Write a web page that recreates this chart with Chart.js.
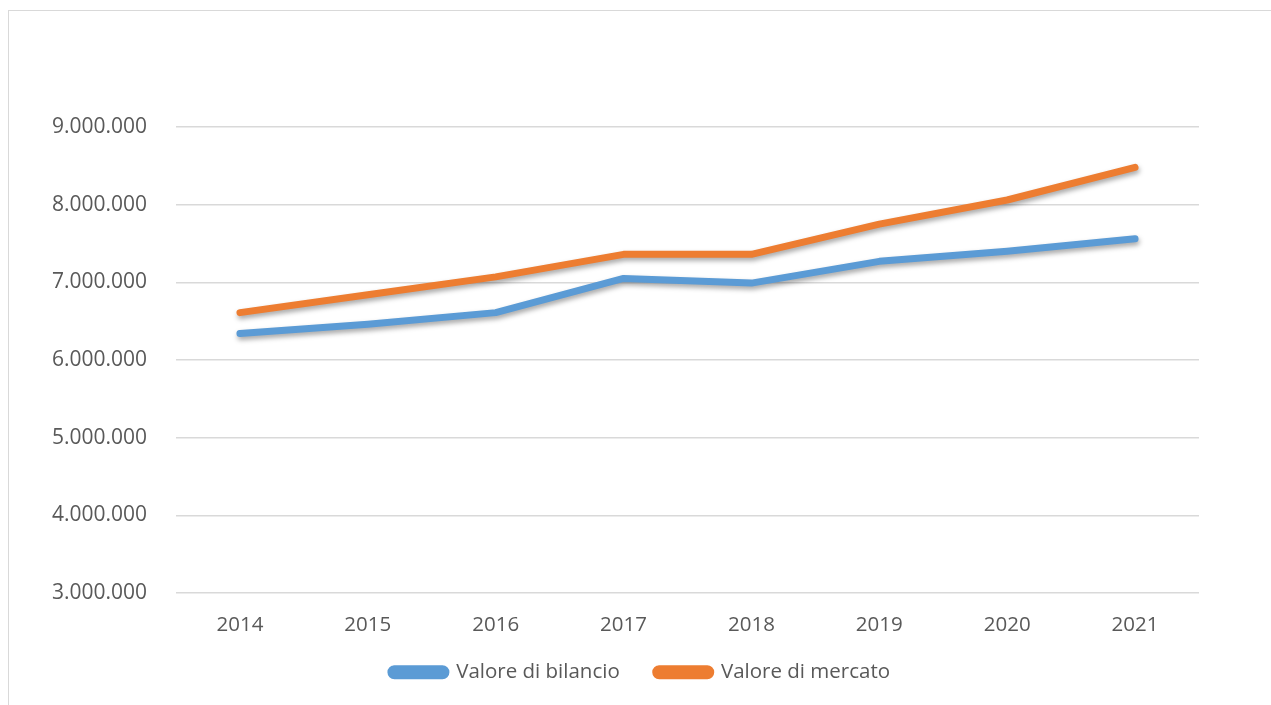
<!DOCTYPE html>
<html>
<head>
<meta charset="utf-8">
<script src="https://cdn.jsdelivr.net/npm/chart.js@4"></script>
<style>
    body { margin: 0; background: #ffffff; overflow: hidden; }
    .frame {
        position: absolute;
        left: 8px;
        top: 10px;
        width: 1300px;
        height: 720px;
        border: 1px solid #d9d9d9;
    }
    .frame canvas { display: block; }
</style>
</head>
<body>
<div class="frame">
    <canvas id="chart1" width="1263" height="695"></canvas>
</div>
<script>
const anni = ['2014', '2015', '2016', '2017', '2018', '2019', '2020', '2021'];
const valoreBilancio = [6340000, 6460000, 6610000, 7050000, 6990000, 7270000, 7400000, 7560000];
const valoreMercato = [6610000, 6840000, 7070000, 7360000, 7360000, 7750000, 8060000, 8480000];
const yMin = 3000000;
const yMax = 9000000;
const yStep = 1000000;

const textColor = '#595959';
const gridColor = '#d9d9d9';
const legendPad = 10;   // used for the legend size
const legendGap = 36;   // space between the two legend entries

// soft drop shadow under the lines, like the office chart
const shadowPlugin = {
    id: 'lineShadow',
    beforeDatasetDraw(chart) {
        const c = chart.ctx;
        c.save();
        c.shadowColor = 'rgba(0, 0, 0, 0.35)';
        c.shadowBlur = 5;
        c.shadowOffsetX = 1;
        c.shadowOffsetY = 3;
    },
    afterDatasetDraw(chart) {
        chart.ctx.restore();
    }
};

// wider gap between entries, legend centred on the whole canvas
const legendTweak = {
    id: 'legendTweak',
    afterLayout(chart) {
        const l = chart.legend;
        const extra = legendGap - legendPad;
        const d = chart.width / 2 - (l.left + l.right) / 2 - extra;
        l.left += d;
        l.right += d;
        l.top -= extra;
        l.options.labels.padding = legendGap;
    }
};

const fmt = (v) => String(v).replace(/\B(?=(\d{3})+(?!\d))/g, '.');

const ctx1 = document.getElementById('chart1').getContext('2d');
new Chart(ctx1, {
    type: 'line',
    data: {
        labels: anni,
        datasets: [{
            label: 'Valore di bilancio',
            data: valoreBilancio,
            borderColor: '#5b9bd5',
            backgroundColor: '#5b9bd5',
            borderWidth: 7,
            borderCapStyle: 'round',
            borderJoinStyle: 'round',
            pointRadius: 0,
            tension: 0
        }, {
            label: 'Valore di mercato',
            data: valoreMercato,
            borderColor: '#ed7d31',
            backgroundColor: '#ed7d31',
            borderWidth: 7,
            borderCapStyle: 'round',
            borderJoinStyle: 'round',
            pointRadius: 0,
            tension: 0
        }]
    },
    options: {
        responsive: false,
        animation: false,
        layout: {
            padding: { left: 17, right: 73, top: 116, bottom: 13.5 }
        },
        scales: {
            x: {
                offset: true,
                grid: { display: false, drawTicks: false },
                border: { display: false },
                ticks: {
                    color: textColor,
                    padding: 20,
                    maxRotation: 0,
                    font: { family: 'Open Sans', size: 20.5 }
                },
                afterFit: (scale) => { scale.height = 59; }
            },
            y: {
                min: yMin,
                max: yMax,
                grid: { color: gridColor, lineWidth: 1.5, drawTicks: false },
                border: { display: false },
                ticks: {
                    stepSize: yStep,
                    color: textColor,
                    padding: 29,
                    font: { family: 'Open Sans', size: 21 },
                    callback: (v) => fmt(v)
                },
                afterFit: (scale) => { scale.width = 150; }
            }
        },
        plugins: {
            legend: {
                position: 'bottom',
                labels: {
                    color: textColor,
                    boxWidth: 55,
                    boxHeight: 7,
                    useBorderRadius: true,
                    borderRadius: 3.5,
                    padding: legendPad,
                    font: { family: 'Open Sans', size: 20.5 }
                }
            },
            tooltip: { enabled: false }
        }
    },
    plugins: [shadowPlugin, legendTweak]
});
</script>
</body>
</html>
